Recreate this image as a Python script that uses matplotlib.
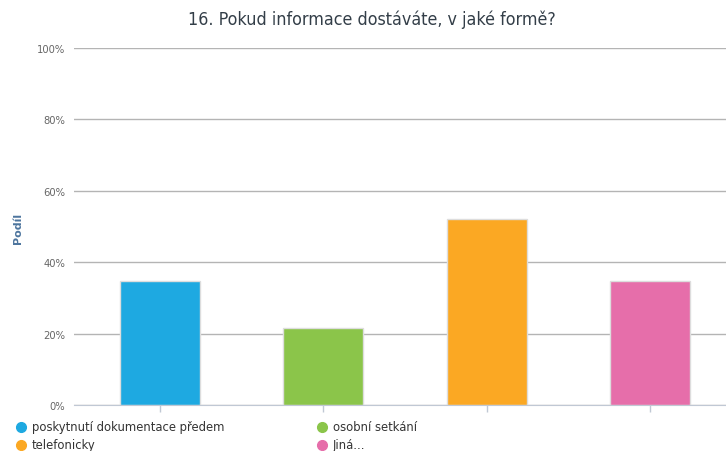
import matplotlib
matplotlib.use("Agg")
import matplotlib.pyplot as plt
from matplotlib.lines import Line2D
from matplotlib.ticker import FuncFormatter

categories = ["poskytnutí dokumentace předem", "osobní setkání", "telefonicky", "Jiná..."]
shares = [34.8, 21.7, 52.2, 34.8]
colors = ["#1EA9E1", "#8BC54A", "#FBA823", "#E66EAA"]
y_ticks = [0, 20, 40, 60, 80, 100]
title = "16. Pokud informace dostáváte, v jaké formě?"
y_label = "Podíl"

plt.rcParams["font.family"] = ["DejaVu Sans"]

W, H = 726, 452
fig = plt.figure(figsize=(W / 100, H / 100), dpi=100)
ax = fig.add_axes([74 / W, 1 - 406 / H, (W - 74) / W, (406 - 49) / H])

x = list(range(len(categories)))
ax.bar(x, shares, width=0.49, color=colors, edgecolor="#dddddd", linewidth=1, zorder=3)

ax.set_xlim(-0.527, 3.465)
ax.set_ylim(0, 100)
ax.set_yticks(y_ticks)
ax.yaxis.set_major_formatter(FuncFormatter(lambda v, p: f"{v:.0f}%"))
ax.set_xticks(x)
ax.set_xticklabels([])
ax.grid(axis="y", color="#b4b4b4", linewidth=1.0, zorder=0)
for s in ["top", "right", "left"]:
    ax.spines[s].set_visible(False)
ax.spines["bottom"].set_color("#c0c8d4")
ax.spines["bottom"].set_zorder(4)
ax.tick_params(axis="y", length=0, pad=6.5, labelsize=8, labelcolor="#666666")
ax.tick_params(axis="x", length=5, color="#c0c8d4", width=1)
for lbl in ax.get_yticklabels():
    lbl.set_fontstretch("condensed")

fig.text(18 / W, 1 - 228 / H, y_label, rotation=90, ha="center", va="center",
         fontsize=8, fontweight="bold", color="#4d759e")
fig.text(372 / W, 1 - 20 / H, title, ha="center", va="center",
         fontsize=12.8, color="#333e48", fontstretch="condensed")

# legend drawn as a two-column grid of dots and labels
col_x = [21, 322]
row_y = [428, 446]
for i, (lab, col) in enumerate(zip(categories, colors)):
    cx = col_x[i % 2]
    cy = row_y[i // 2]
    fig.add_artist(Line2D([cx / W], [1 - cy / H], marker="o", markersize=7,
                          color=col, linestyle="none", transform=fig.transFigure))
    fig.text((cx + 11) / W, 1 - cy / H, lab, ha="left", va="center",
             fontsize=9.3, color="#333333", fontstretch="condensed")

fig.savefig("out.png", dpi=100)
